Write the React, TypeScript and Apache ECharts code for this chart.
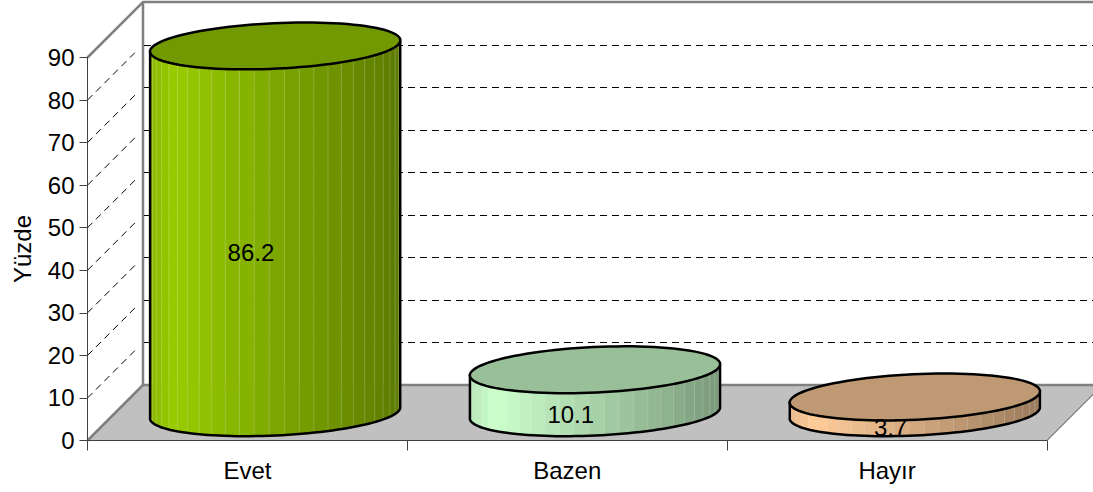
import React, { useEffect, useRef } from "react";
import * as echarts from "echarts";

const categories = ["Evet", "Bazen", "Hayır"];
const values = [86.2, 10.1, 3.7];
const yTickValues = [10, 20, 30, 40, 50, 60, 70, 80];

const sideColors = [
  [153, 204, 0],
  [204, 255, 204],
  [255, 204, 153],
];
const FONT = '"Liberation Sans", Arial, sans-serif';
const FONT_SIZE = 24;
const DEPTH_X = 55.5;
const DEPTH_Y = 55.5;
const FACETS = 26;
const OUTLINE = "#000";

const rgb = (c: number[], k: number) =>
  `rgb(${Math.round(c[0] * k)},${Math.round(c[1] * k)},${Math.round(c[2] * k)})`;

function renderWalls(params: any, api: any) {
  const { x, y, width, height } = params.coordSys;
  const bottom = y + height;
  const right = x + width;
  const dx = DEPTH_X;
  const dy = DEPTH_Y;
  const children: any[] = [];
  children.push({
    type: "polygon",
    shape: { points: [[x, bottom], [x + dx, bottom - dy], [right + dx, bottom - dy], [right, bottom]] },
    style: { fill: "#C0C0C0", stroke: null },
  });
  const gray = { stroke: "#808080", lineWidth: 2.5, fill: null };
  children.push({ type: "polyline", shape: { points: [[x, y], [x + dx, y - dy], [right + dx, y - dy]] }, style: gray });
  children.push({ type: "line", shape: { x1: x + dx, y1: y - dy, x2: x + dx, y2: bottom - dy }, style: gray });
  children.push({ type: "line", shape: { x1: x + dx, y1: bottom - dy, x2: right + dx, y2: bottom - dy }, style: gray });
  children.push({ type: "line", shape: { x1: x, y1: bottom, x2: x + dx, y2: bottom - dy }, style: gray });
  children.push({
    type: "line",
    shape: { x1: right, y1: bottom, x2: right + dx, y2: bottom - dy },
    style: { stroke: "#404040", lineWidth: 1 },
  });
  yTickValues.forEach((v) => {
    const py = api.coord([0, v])[1];
    const backY = Math.round(py - dy) + 0.5;
    const dash = { stroke: "#000", lineWidth: 1, lineDash: [7, 5], fill: null };
    children.push({ type: "line", shape: { x1: x + dx + 1, y1: backY, x2: right + dx, y2: backY }, style: dash });
    children.push({ type: "line", shape: { x1: x, y1: py, x2: x + dx - 6, y2: py - dy + 6 }, style: dash });
  });
  return { type: "group", children };
}

function renderCylinder(params: any, api: any) {
  const cat = api.value(0);
  const val = api.value(1);
  const base = api.coord([cat, 0]);
  const top = api.coord([cat, val]);
  const mid = api.coord([cat, val / 2]);
  const band = api.size([1, 0])[0];
  const rx = band * 0.391;
  const ry = 23;
  const tiltY = 4.5;
  const skew = -6;
  const cx = base[0] + DEPTH_X / 2;
  const baseY = base[1] - DEPTH_Y / 2;
  const topY = baseY - (base[1] - top[1]);
  const color = sideColors[params.dataIndex];

  const pt = (t: number, cy: number) => [
    cx + rx * Math.cos(t) + skew * Math.sin(t),
    cy - tiltY * Math.cos(t) + ry * Math.sin(t),
  ];
  const arc = (cy: number, from: number, to: number, n: number) => {
    const pts: number[][] = [];
    for (let i = 0; i <= n; i++) pts.push(pt(from + ((to - from) * i) / n, cy));
    return pts;
  };
  const shade = (f: number) => (f < 0.1 ? 0.9 + f : 1 - ((f - 0.1) / 0.9) * 0.4);

  const children: any[] = [];
  for (let i = 0; i < FACETS; i++) {
    const t0 = Math.PI - (Math.PI * i) / FACETS;
    const t1 = Math.PI - (Math.PI * (i + 1)) / FACETS;
    const a = pt(t0, topY);
    const b = pt(t1, topY);
    const c = pt(t1, baseY);
    const d = pt(t0, baseY);
    const f = ((a[0] + b[0]) / 2 - (cx - rx)) / (2 * rx);
    children.push({
      type: "polygon",
      shape: { points: [a, b, c, d] },
      style: { fill: rgb(color, shade(f)), stroke: rgb(color, shade(f)), lineWidth: 0.5 },
    });
    if (i > 0) {
      children.push({
        type: "line",
        shape: { x1: a[0], y1: a[1], x2: d[0], y2: d[1] },
        style: { stroke: "rgba(255,255,255,0.18)", lineWidth: 1 },
      });
    }
  }
  const outline = [
    pt(Math.PI, topY),
    ...arc(baseY, Math.PI, 0, 60),
    pt(0, topY),
  ];
  children.push({
    type: "polyline",
    shape: { points: outline },
    style: { stroke: OUTLINE, lineWidth: 2.5, fill: null },
  });
  children.push({
    type: "polygon",
    shape: { points: arc(topY, 0, Math.PI * 2, 100) },
    style: { fill: rgb(color, 0.75), stroke: OUTLINE, lineWidth: 2.5 },
  });
  children.push({
    type: "text",
    style: {
      text: String(val),
      x: mid[0] + 3.5,
      y: mid[1] - 5,
      align: "center",
      verticalAlign: "middle",
      fill: "#000",
      font: `${FONT_SIZE}px ${FONT}`,
    },
  });
  return { type: "group", children };
}

export default function App() {
  const ref = useRef<HTMLDivElement>(null);
  useEffect(() => {
    document.body.style.margin = "0";
    const chart = echarts.init(ref.current!, undefined, { renderer: "svg" });
    const axisLabel = { color: "#000", fontFamily: FONT, fontSize: FONT_SIZE };
    chart.setOption({
      animation: false,
      backgroundColor: "#fff",
      grid: { left: 87.5, right: 46, top: 57.5, bottom: 51.5, containLabel: false, outerBoundsMode: "none" },
      xAxis: {
        type: "category",
        data: categories,
        boundaryGap: true,
        z: 5,
        axisLine: { lineStyle: { color: "#404040", width: 1 } },
        axisTick: { show: true, alignWithLabel: false, length: 10, lineStyle: { color: "#404040" } },
        axisLabel: { ...axisLabel, margin: 18 },
        splitLine: { show: false },
      },
      yAxis: {
        type: "value",
        min: 0,
        max: 90,
        interval: 10,
        z: 5,
        name: "Yüzde",
        nameLocation: "middle",
        nameGap: 53,
        nameRotate: 90,
        nameTextStyle: { color: "#000", fontFamily: FONT, fontSize: FONT_SIZE },
        axisLine: { show: true, lineStyle: { color: "#404040", width: 1 } },
        axisTick: { show: true, length: 8, lineStyle: { color: "#404040" } },
        axisLabel: { ...axisLabel, margin: 13 },
        splitLine: { show: false },
      },
      series: [
        {
          type: "custom",
          z: 1,
          silent: true,
          clip: false,
          encode: { x: 0, y: 1 },
          data: [[0, 0]],
          renderItem: renderWalls,
        },
        {
          type: "custom",
          z: 2,
          silent: true,
          clip: false,
          encode: { x: 0, y: 1 },
          data: values.map((v, i) => [i, v]),
          renderItem: renderCylinder,
        },
      ],
    });
    return () => chart.dispose();
  }, []);
  return (
    <div
      ref={ref}
      style={{ position: "absolute", left: 0, top: 0, width: 1093, height: 492 }}
    />
  );
}
